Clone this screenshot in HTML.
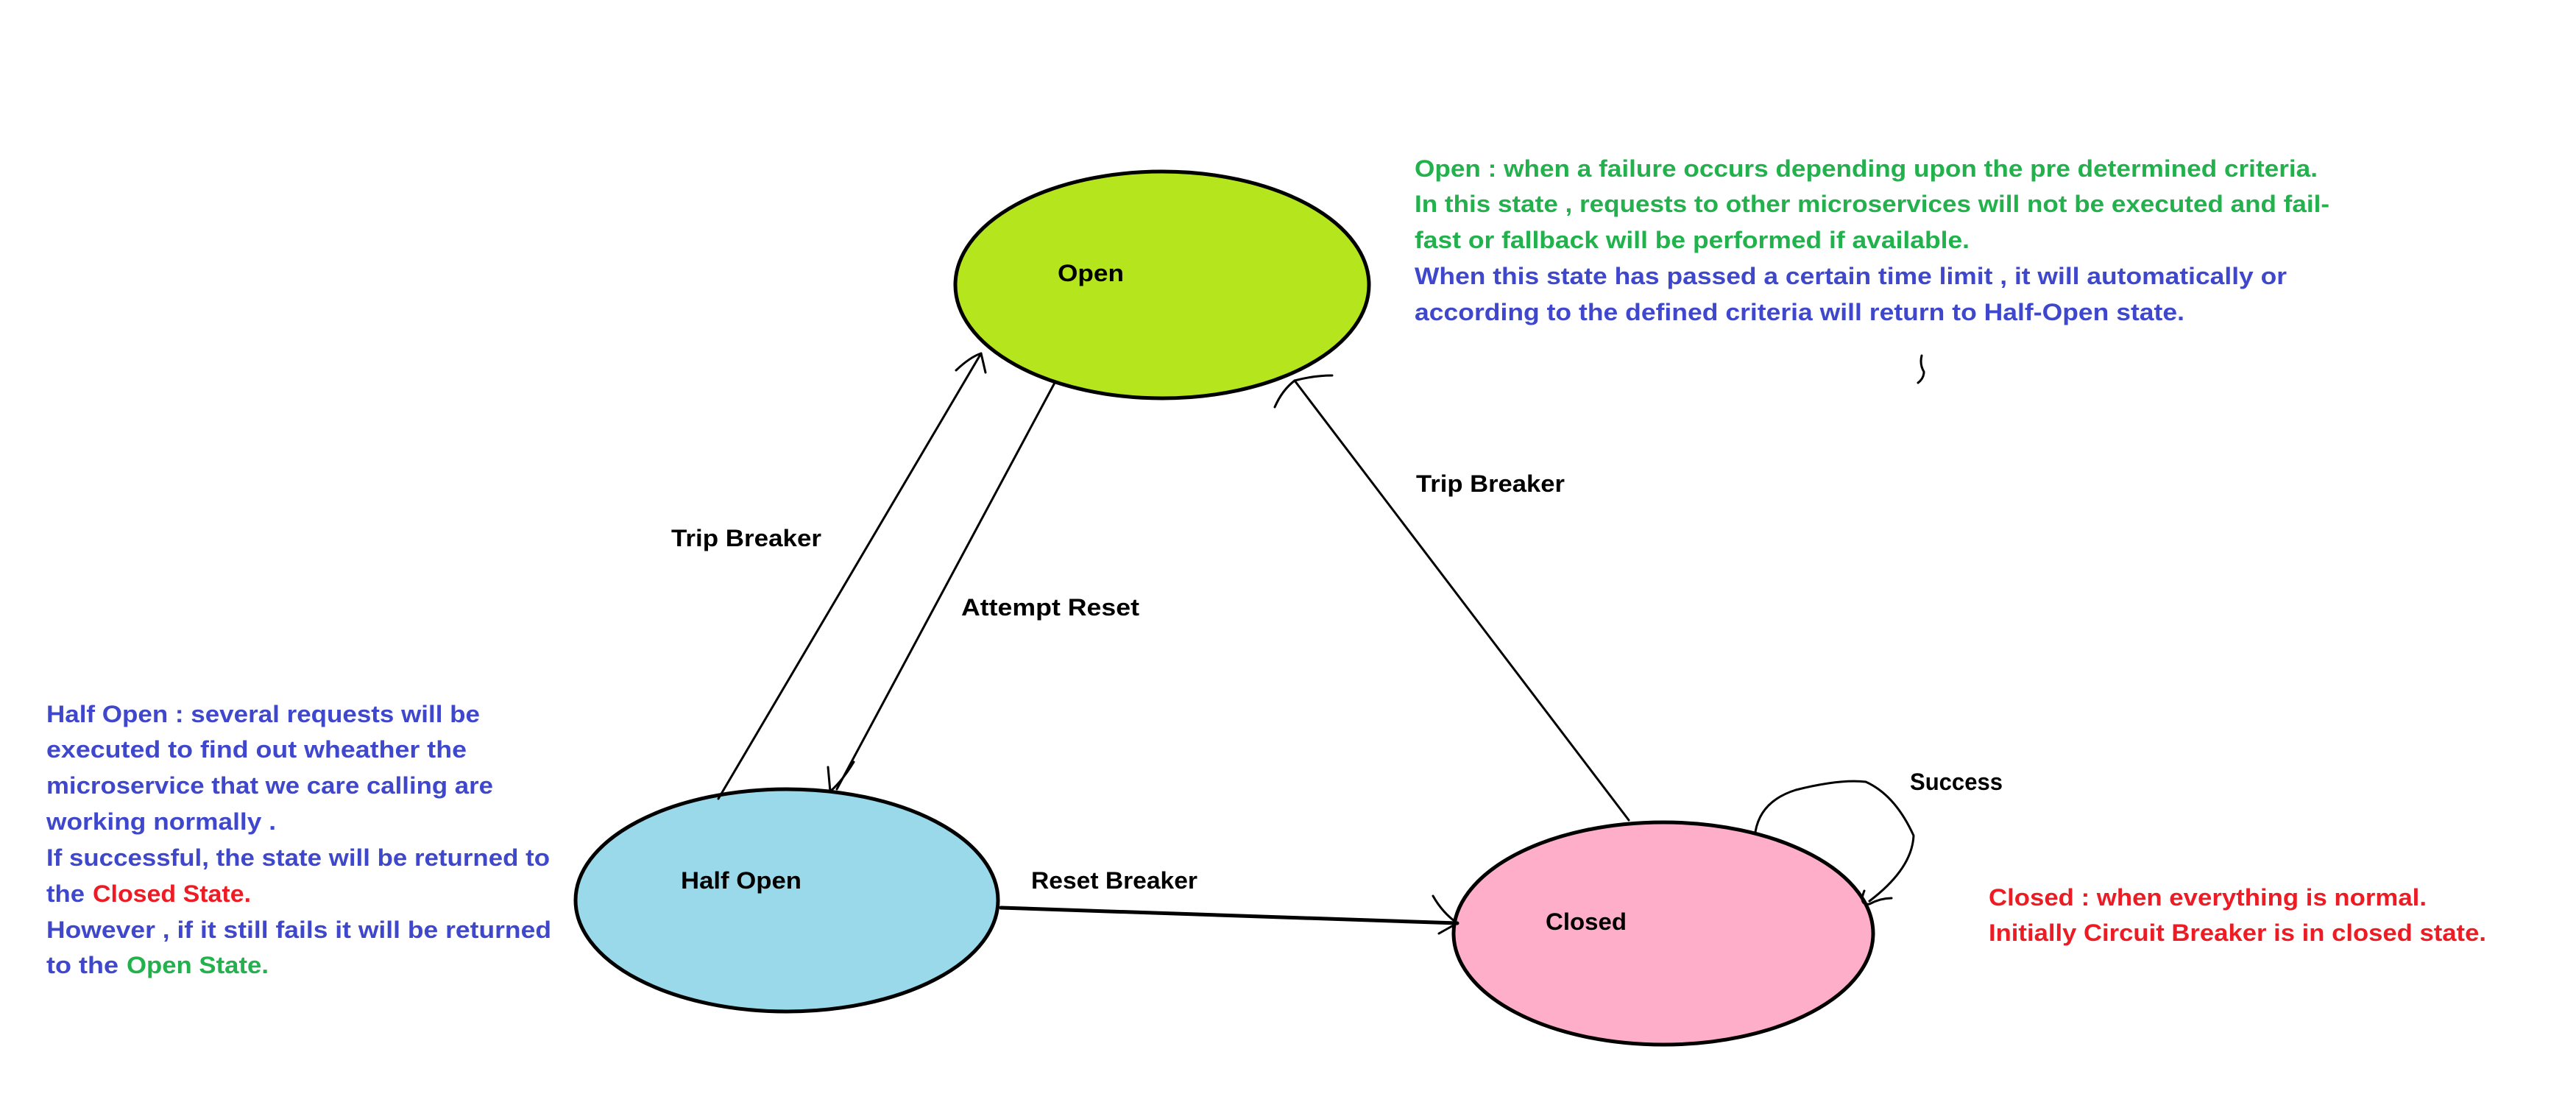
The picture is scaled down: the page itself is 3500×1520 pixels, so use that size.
<!DOCTYPE html>
<html><head><meta charset="utf-8"><style>
html,body{margin:0;padding:0;background:#fff;}
svg{display:block;}
text{font-family:"Liberation Sans",Arial,sans-serif;font-weight:bold;font-size:32px;}
.g{fill:#22b14c}.b{fill:#3f48cc}.r{fill:#ed1c24}.k{fill:#000}
</style></head><body>
<svg width="3500" height="1520" viewBox="0 0 3500 1520" xmlns="http://www.w3.org/2000/svg">
<rect width="3500" height="1520" fill="#fff"/>
<ellipse cx="1579" cy="387" rx="281" ry="154" fill="#b5e61d" stroke="#000" stroke-width="5"/>
<ellipse cx="1069" cy="1223" rx="287" ry="151" fill="#99d9ea" stroke="#000" stroke-width="5"/>
<ellipse cx="2260" cy="1268" rx="285" ry="151" fill="#ffaec9" stroke="#000" stroke-width="5"/>
<g fill="none" stroke="#000" stroke-width="3" stroke-linecap="round" stroke-linejoin="round">
<path d="M976 1085 L1333 480"/>
<path d="M1299 503 Q1318 485 1333 480 L1339 506"/>
<path d="M1433 520 L1137 1072"/>
<path d="M1125 1042 L1128 1075 Q1145 1060 1160 1035"/>
<path d="M2213 1114 L1759 517"/>
<path d="M1732 553 Q1742 530 1759 517 Q1785 510 1810 510"/>
<path d="M1360 1233 L1980 1254" stroke-width="5"/>
<path d="M1947 1217 Q1960 1240 1980 1254 L1955 1268"/>
<path d="M2385 1130 Q2392 1088 2440 1073 Q2500 1058 2535 1062 Q2575 1080 2600 1135 Q2598 1180 2540 1224"/>
<path d="M2533 1210 Q2525 1230 2540 1228 Q2555 1220 2570 1220"/>
<path d="M2611 483 Q2608 495 2614 505 Q2614 514 2606 520"/>
</g>
<text class="k" x="1437" y="382" textLength="90" lengthAdjust="spacingAndGlyphs">Open</text>
<text class="k" x="925" y="1207" textLength="164" lengthAdjust="spacingAndGlyphs">Half Open</text>
<text class="k" x="2100" y="1263" textLength="110" lengthAdjust="spacingAndGlyphs">Closed</text>
<text class="k" x="912" y="742" textLength="204" lengthAdjust="spacingAndGlyphs">Trip Breaker</text>
<text class="k" x="1306" y="836" textLength="242" lengthAdjust="spacingAndGlyphs">Attempt Reset</text>
<text class="k" x="1924" y="668" textLength="202" lengthAdjust="spacingAndGlyphs">Trip Breaker</text>
<text class="k" x="1401" y="1207" textLength="226" lengthAdjust="spacingAndGlyphs">Reset Breaker</text>
<text class="k" x="2595" y="1073" textLength="126" lengthAdjust="spacingAndGlyphs">Success</text>
<text class="g" x="1922" y="240" textLength="1227" lengthAdjust="spacingAndGlyphs">Open : when a failure occurs depending upon the pre determined criteria.</text>
<text class="g" x="1922" y="288" textLength="1243" lengthAdjust="spacingAndGlyphs">In this state , requests to other microservices will not be executed and fail-</text>
<text class="g" x="1922" y="337" textLength="754" lengthAdjust="spacingAndGlyphs">fast or fallback will be performed if available.</text>
<text class="b" x="1922" y="386" textLength="1185" lengthAdjust="spacingAndGlyphs">When this state has passed a certain time limit , it will automatically or</text>
<text class="b" x="1922" y="435" textLength="1046" lengthAdjust="spacingAndGlyphs">according to the defined criteria will return to Half-Open state.</text>
<text class="b" x="63" y="981" textLength="589" lengthAdjust="spacingAndGlyphs">Half Open : several requests will be</text>
<text class="b" x="63" y="1029" textLength="571" lengthAdjust="spacingAndGlyphs">executed to find out wheather the</text>
<text class="b" x="63" y="1078" textLength="607" lengthAdjust="spacingAndGlyphs">microservice that we care calling are</text>
<text class="b" x="63" y="1127" textLength="312" lengthAdjust="spacingAndGlyphs">working normally .</text>
<text class="b" x="63" y="1176" textLength="684" lengthAdjust="spacingAndGlyphs">If successful, the state will be returned to</text>
<text class="b" x="63" y="1225" textLength="52" lengthAdjust="spacingAndGlyphs">the</text>
<text class="r" x="126" y="1225" textLength="215" lengthAdjust="spacingAndGlyphs">Closed State.</text>
<text class="b" x="63" y="1274" textLength="686" lengthAdjust="spacingAndGlyphs">However , if it still fails it will be returned</text>
<text class="b" x="63" y="1322" textLength="98" lengthAdjust="spacingAndGlyphs">to the</text>
<text class="g" x="172" y="1322" textLength="193" lengthAdjust="spacingAndGlyphs">Open State.</text>
<text class="r" x="2702" y="1230" textLength="595" lengthAdjust="spacingAndGlyphs">Closed : when everything is normal.</text>
<text class="r" x="2702" y="1278" textLength="676" lengthAdjust="spacingAndGlyphs">Initially Circuit Breaker is in closed state.</text>
</svg>
</body></html>
